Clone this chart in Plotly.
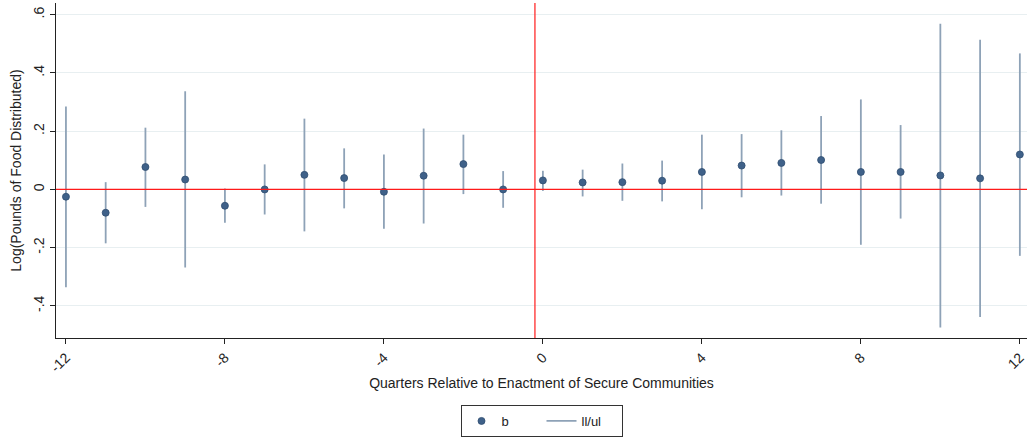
import plotly.graph_objects as go

quarters = list(range(-12, 13))
b = [-0.025, -0.080, 0.077, 0.034, -0.056, 0.000, 0.050, 0.039, -0.008, 0.047, 0.087, 0.000,
     0.031, 0.024, 0.025, 0.030, 0.060, 0.082, 0.091, 0.101, 0.060, 0.060, 0.048, 0.038, 0.120]
ll = [-0.336, -0.185, -0.060, -0.268, -0.114, -0.086, -0.144, -0.065, -0.135, -0.117, -0.016, -0.063,
      -0.005, -0.024, -0.039, -0.041, -0.068, -0.027, -0.021, -0.049, -0.190, -0.100, -0.474, -0.438, -0.228]
ul = [0.285, 0.025, 0.212, 0.337, 0.003, 0.086, 0.243, 0.141, 0.120, 0.209, 0.188, 0.063,
      0.064, 0.068, 0.089, 0.099, 0.188, 0.190, 0.203, 0.252, 0.309, 0.221, 0.569, 0.514, 0.467]
x_ticks = [-12, -8, -4, 0, 4, 8, 12]
y_ticks = [-0.4, -0.2, 0, 0.2, 0.4, 0.6]
y_ticktext = ["-.4", "-.2", "0", ".2", ".4", ".6"]
event_line_x = -0.2

ci_x, ci_y = [], []
for q, lo, hi in zip(quarters, ll, ul):
    ci_x += [q, q, None]
    ci_y += [lo, hi, None]

FONT = "Liberation Sans, Arial, sans-serif"
fig = go.Figure()
fig.add_trace(go.Scatter(x=ci_x, y=ci_y, mode="lines", name="ll/ul",
                         line=dict(color="#8ea2b7", width=1.8)))
fig.add_trace(go.Scatter(x=quarters, y=b, mode="markers", name="b",
                         marker=dict(color="#3f6189", size=7,
                                     line=dict(color="#2f4d70", width=0.8))))

fig.add_hline(y=0, line=dict(color="#ff1a1a", width=1.2), layer="above")
fig.add_vline(x=event_line_x, line=dict(color="#ff1a1a", width=1.2), layer="above")

fig.update_layout(
    width=1028, height=437,
    margin=dict(l=56, r=1, t=3, b=99, autoexpand=False),
    paper_bgcolor="white", plot_bgcolor="white",
    font=dict(family=FONT, size=14, color="#222"),
    showlegend=True,
    legend=dict(orientation="h", x=0.5, xanchor="center", y=-0.2, yanchor="top",
                bordercolor="#333", borderwidth=1, traceorder="reversed",
                font=dict(size=13), itemwidth=30, entrywidth=35, tracegroupgap=0),
    xaxis=dict(range=[-12.25, 12.18], tickvals=x_ticks, ticktext=[str(v) for v in x_ticks],
               tickangle=-45, ticks="outside", ticklen=5, tickcolor="#222",
               showline=True, linecolor="#222", linewidth=1.2, showgrid=False,
               zeroline=False, mirror=False, automargin=False,
               title=dict(text="Quarters Relative to Enactment of Secure Communities",
                          font=dict(size=14), standoff=3)),
    yaxis=dict(range=[-0.51, 0.64], tickvals=y_ticks, ticktext=y_ticktext,
               tickangle=-90, ticks="outside", ticklen=5, tickcolor="#222",
               showline=True, linecolor="#222", linewidth=1.2, automargin=False,
               showgrid=True, gridcolor="#e8eff1", gridwidth=1.2, zeroline=False,
               title=dict(text="Log(Pounds of Food Distributed)", font=dict(size=14), standoff=6)),
)

fig.write_html("out.html", config={"displayModeBar": False},
               post_script="document.body.style.margin='0';document.body.style.padding='0';")
